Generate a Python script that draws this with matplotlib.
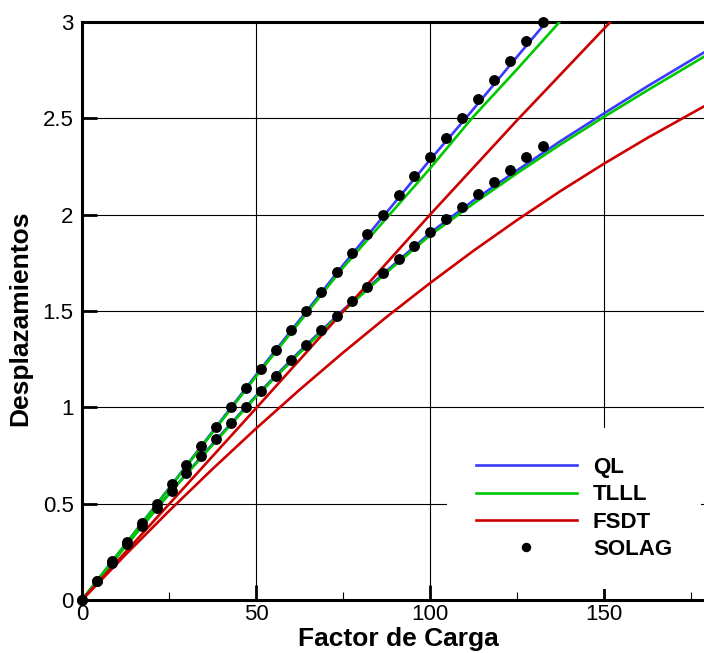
import matplotlib
matplotlib.use('Agg')
import matplotlib.pyplot as plt

plt.rcParams['font.family'] = ['Liberation Sans', 'DejaVu Sans']

# --- data ---
# SOLAG points (same load steps for both displacement branches)
solag_x = [0, 4.2, 8.6, 12.9, 17.2, 21.5, 25.9, 30.0, 34.3, 38.5, 42.8,
           47.0, 51.3, 55.7, 60.0, 64.4, 68.8, 73.2, 77.6, 82.0, 86.4,
           91.0, 95.5, 100.1, 104.6, 109.1, 113.8, 118.4, 123.0, 127.7, 132.4]
solag_upper = [0, 0.1, 0.2, 0.3, 0.4, 0.5, 0.6, 0.7, 0.8, 0.9, 1.0,
               1.1, 1.2, 1.3, 1.4, 1.5, 1.6, 1.7, 1.8, 1.9, 2.0,
               2.1, 2.2, 2.3, 2.4, 2.5, 2.6, 2.7, 2.8, 2.9, 3.0]
solag_lower = [0, 0.097, 0.193, 0.29, 0.384, 0.476, 0.567, 0.657, 0.745, 0.834, 0.92,
               1.0, 1.084, 1.165, 1.246, 1.323, 1.401, 1.476, 1.552, 1.625, 1.696,
               1.768, 1.837, 1.908, 1.975, 2.041, 2.105, 2.169, 2.233, 2.297, 2.357]

# QL (blue)
ql_up_x = [0, 25, 50, 75, 100, 110, 125, 133.4]
ql_up_y = [0, 0.58, 1.168, 1.738, 2.285, 2.495, 2.82, 3.0]
ql_lo_x = [0, 12.5, 25, 37.5, 50, 62.5, 75, 87.5, 100, 112.5, 125, 137.5, 150, 162.5, 178.7]
ql_lo_y = [0, 0.28, 0.552, 0.81, 1.06, 1.29, 1.505, 1.708, 1.905, 2.074, 2.23, 2.382,
           2.526, 2.667, 2.842]

# TLLL (green)
tl_up_x = [0, 25, 50, 75, 100, 112, 125, 137.2]
tl_up_y = [0, 0.578, 1.16, 1.725, 2.24, 2.5, 2.755, 3.0]
tl_lo_x = [0, 12.5, 25, 37.5, 50, 62.5, 75, 87.5, 100, 112.5, 125, 137.5, 150, 162.5, 178.7]
tl_lo_y = [0, 0.279, 0.55, 0.805, 1.055, 1.282, 1.498, 1.700, 1.893, 2.058, 2.215, 2.365,
           2.508, 2.646, 2.82]

# FSDT (red)
fs_up_x = [0, 25, 50, 75, 100, 125, 151.8]
fs_up_y = [0, 0.497, 0.995, 1.497, 2.0, 2.49, 3.0]
fs_lo_x = [0, 12.5, 25, 37.5, 50, 62.5, 75, 87.5, 100, 112.5, 125, 137.5, 150, 162.5, 178.7]
fs_lo_y = [0, 0.235, 0.462, 0.680, 0.89, 1.091, 1.284, 1.469, 1.645, 1.813, 1.972, 2.123,
           2.265, 2.399, 2.562]

x_ticks = [0, 50, 100, 150]
x_minor = [25, 75, 125, 175]
y_ticks = [0, 0.5, 1, 1.5, 2, 2.5, 3]
y_ticklabels = ['0', '0.5', '1', '1.5', '2', '2.5', '3']

BLUE = '#3a3aff'
GREEN = '#00c800'
RED = '#cc0000'

fig = plt.figure(figsize=(7.04, 6.53), dpi=100)
ax = fig.add_axes([82 / 704, 53 / 653, 622 / 704, 578 / 653])

lw = 1.9
ax.plot(ql_up_x, ql_up_y, color=BLUE, lw=lw, label='QL', zorder=3)
ax.plot(ql_lo_x, ql_lo_y, color=BLUE, lw=lw, zorder=3)
ax.plot(tl_up_x, tl_up_y, color=GREEN, lw=lw, label='TLLL', zorder=3)
ax.plot(tl_lo_x, tl_lo_y, color=GREEN, lw=lw, zorder=3)
ax.plot(fs_up_x, fs_up_y, color=RED, lw=lw, label='FSDT', zorder=4)
ax.plot(fs_lo_x, fs_lo_y, color=RED, lw=lw, zorder=4)
ax.plot(solag_x, solag_upper, 'o', color='black', ms=6.8, label='SOLAG',
        zorder=5, clip_on=False)
ax.plot(solag_x, solag_lower, 'o', color='black', ms=6.8, zorder=5, clip_on=False)

ax.set_xlim(0, 178.7)
ax.set_ylim(0, 3)

ax.set_xticks(x_ticks)
ax.set_xticklabels([str(v) for v in x_ticks])
ax.set_xticks(x_minor, minor=True)
ax.set_yticks(y_ticks)
ax.set_yticklabels(y_ticklabels)

ax.tick_params(which='major', direction='in', length=11, width=2.0,
               labelsize=16, top=False, right=False)
ax.tick_params(axis='x', which='major', pad=3)
ax.tick_params(axis='y', which='major', pad=6)
ax.tick_params(which='minor', direction='in', length=6, width=0.8)

ax.grid(True, which='major', color='black', lw=0.8)
ax.set_axisbelow(True)

for side in ['left', 'bottom', 'top']:
    ax.spines[side].set_linewidth(2.2)
ax.spines['right'].set_visible(False)

ax.set_xlabel('Factor de Carga', fontsize=19, fontweight='bold')
ax.set_ylabel('Desplazamientos', fontsize=19, fontweight='bold')
ax.xaxis.set_label_coords(0.508, -0.046)
ax.yaxis.set_label_coords(-0.08, 0.488)

leg = ax.legend(loc='center', bbox_to_anchor=(574 / 704, 1 - 508.4 / 653),
                bbox_transform=fig.transFigure, frameon=True, fancybox=False,
                facecolor='white', edgecolor='none', framealpha=1,
                prop={'weight': 'bold', 'size': 16}, handlelength=4.55,
                handletextpad=0.72, labelspacing=0.28, borderpad=1.3,
                markerscale=0.85)
leg.set_zorder(6)

fig.savefig('out.png', dpi=100)
